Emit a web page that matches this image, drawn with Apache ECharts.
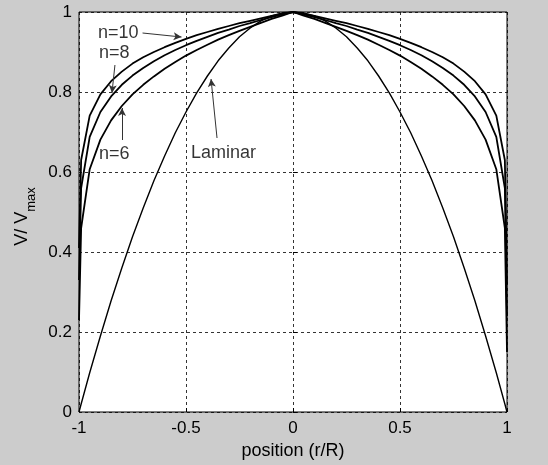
<!DOCTYPE html>
<html><head><meta charset="utf-8">
<script src="https://cdn.jsdelivr.net/npm/echarts@6/dist/echarts.min.js"></script>
<style>html,body{margin:0;padding:0;background:#cccccc;}#c{width:548px;height:465px;}</style>
</head><body><div id="c"></div>
<script>
var positions = [-1,-0.99,-0.95,-0.9,-0.85,-0.8,-0.75,-0.7,-0.65,-0.6,-0.55,-0.5,-0.45,-0.4,-0.35,-0.3,-0.25,-0.2,-0.15,-0.1,-0.05,0,0.05,0.1,0.15,0.2,0.25,0.3,0.35,0.4,0.45,0.5,0.55,0.6,0.65,0.7,0.75,0.8,0.85,0.9,0.95,0.99,1];
var n6 = [0.23,0.46,0.607,0.681,0.729,0.765,0.794,0.818,0.839,0.858,0.875,0.891,0.905,0.918,0.931,0.942,0.953,0.963,0.973,0.983,0.991,1,0.991,0.983,0.973,0.963,0.953,0.942,0.931,0.918,0.905,0.891,0.875,0.858,0.839,0.818,0.794,0.765,0.729,0.681,0.607,0.46,0.15];
var n8 = [0.33,0.56,0.688,0.750,0.789,0.818,0.841,0.860,0.877,0.892,0.905,0.917,0.928,0.938,0.948,0.956,0.965,0.972,0.980,0.987,0.994,1,0.994,0.987,0.980,0.972,0.965,0.956,0.948,0.938,0.928,0.917,0.905,0.892,0.877,0.860,0.841,0.818,0.789,0.750,0.688,0.56,0.24];
var n10 = [0.41,0.63,0.741,0.794,0.827,0.851,0.871,0.887,0.900,0.912,0.923,0.933,0.942,0.950,0.958,0.965,0.972,0.978,0.984,0.990,0.995,1,0.995,0.990,0.984,0.978,0.972,0.965,0.958,0.950,0.942,0.933,0.923,0.912,0.900,0.887,0.871,0.851,0.827,0.794,0.741,0.63,0.32];
var laminar = [0,0.02,0.098,0.19,0.278,0.36,0.438,0.51,0.578,0.64,0.698,0.75,0.798,0.84,0.878,0.91,0.938,0.96,0.978,0.99,0.998,1,0.998,0.99,0.978,0.96,0.938,0.91,0.878,0.84,0.798,0.75,0.698,0.64,0.578,0.51,0.438,0.36,0.278,0.19,0.098,0.02,0];

// annotations (data coordinates)
var labelTexts = ['n=10','n=8','n=6','Laminar'];
var labelX = [-0.911,-0.907,-0.907,-0.477];
var labelY = [0.9475,0.8975,0.645,0.6475];
var arrowFrom = [[-0.703,0.9475],[-0.832,0.8675],[-0.799,0.68],[-0.355,0.685]];
var arrowTo = [[-0.521,0.9375],[-0.846,0.7975],[-0.799,0.76],[-0.383,0.8325]];

function pairs(ys){return positions.map(function(x,i){return [x,ys[i]];});}
var FONT = 'Liberation Sans, Arial, sans-serif';
var curveSeries = [n10,n8,n6].map(function(ys){
  return {type:'line',data:pairs(ys),showSymbol:false,symbol:'none',
    lineStyle:{color:'#000',width:1.8},silent:true,z:3,animation:false};
});
curveSeries.push({type:'line',data:pairs(laminar),showSymbol:false,symbol:'none',
  lineStyle:{color:'#000',width:1.4},silent:true,z:3,animation:false});
curveSeries.push({type:'scatter',symbolSize:0,animation:false,silent:true,z:5,
  data:labelTexts.map(function(t,i){return {value:[labelX[i],labelY[i]],name:t};}),
  label:{show:true,position:'right',distance:0,formatter:function(p){return p.name;},
    color:'#000',fontSize:18,fontFamily:FONT},
  markLine:{silent:true,animation:false,symbol:['none','arrow'],symbolSize:[6,8],
    lineStyle:{color:'#333',width:1,type:'solid'},label:{show:false},
    data:arrowFrom.map(function(a,i){return [{coord:a},{coord:arrowTo[i]}];})}
});

var chart = echarts.init(document.getElementById('c'),null,{renderer:'canvas'});
chart.setOption({
  backgroundColor:'#cccccc',
  animation:false,
  grid:{left:79,top:12,width:428,height:400,show:true,backgroundColor:'#fff',borderColor:'#000',borderWidth:1},
  xAxis:{type:'value',min:-1,max:1,interval:0.5,
    name:'position (r/R)',nameLocation:'middle',nameGap:29,
    nameTextStyle:{color:'#000',fontSize:18,fontFamily:FONT},
    axisLine:{show:false},axisTick:{show:true,inside:true,length:4,lineStyle:{color:'#000'}},
    axisLabel:{color:'#000',fontSize:17,fontFamily:FONT,margin:8},
    splitLine:{show:true,lineStyle:{color:'#000',type:[3,3],width:0.8}}},
  yAxis:{type:'value',min:0,max:1,interval:0.2,
    name:'{a|V/ V}{b|max}',nameLocation:'middle',nameGap:39,nameRotate:90,
    nameTextStyle:{rich:{
      a:{color:'#000',fontSize:18,fontFamily:FONT,lineHeight:20,verticalAlign:'top'},
      b:{color:'#000',fontSize:13,fontFamily:FONT,lineHeight:14,verticalAlign:'top',padding:[11,9,0,0]}}},
    axisLine:{show:false},axisTick:{show:true,inside:true,length:4,lineStyle:{color:'#000'}},
    axisLabel:{color:'#000',fontSize:17,fontFamily:FONT,margin:7},
    splitLine:{show:true,lineStyle:{color:'#000',type:[3,3],width:0.8}}},
  series:curveSeries
});
</script></body></html>
